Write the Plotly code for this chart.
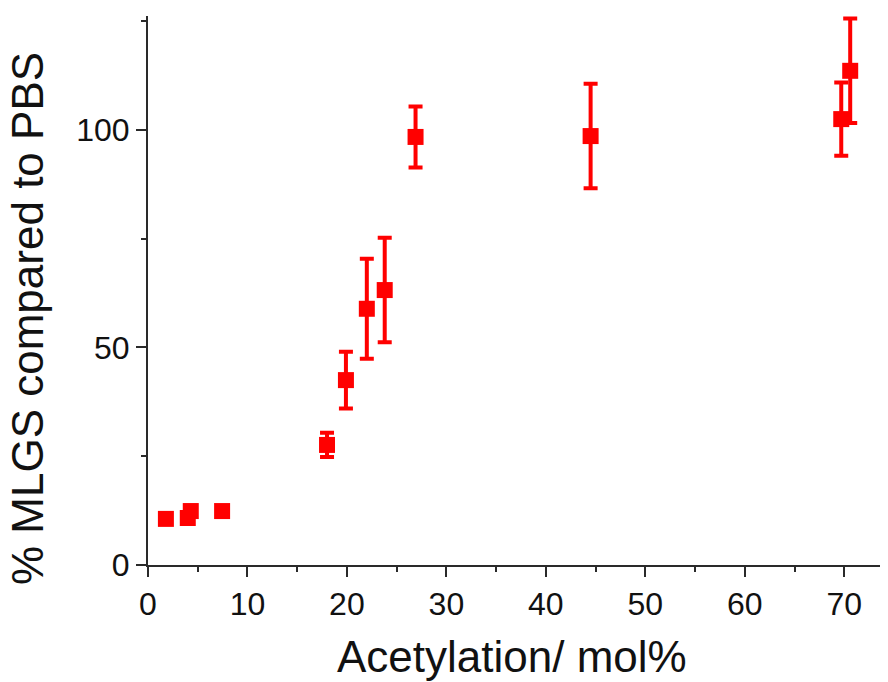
import plotly.graph_objects as go

# Acetylation (mol%) vs % MLGS compared to PBS
acetylation = [1.8, 4.0, 4.3, 7.45, 18.0, 19.9, 22.0, 23.8, 26.9, 44.5, 69.7, 70.6]
mlgs = [10.6, 10.8, 12.4, 12.4, 27.6, 42.5, 58.9, 63.2, 98.4, 98.6, 102.5, 113.6]
mlgs_err = [1.0, 1.2, 1.2, 1.0, 2.8, 6.5, 11.5, 12.0, 7.0, 12.0, 8.4, 12.0]

x_ticks = [0, 10, 20, 30, 40, 50, 60, 70]
x_minor = [5, 15, 25, 35, 45, 55, 65]
y_ticks = [0, 50, 100]
y_minor = [25, 75, 125]

FONT = "Liberation Sans, Arial, sans-serif"
INK = "#111111"
AXIS = "#2a2a2a"

fig = go.Figure()

fig.add_trace(go.Scatter(
    x=acetylation,
    y=mlgs,
    mode="markers",
    marker=dict(symbol="square", size=16, color="#ff0000"),
    error_y=dict(type="data", array=mlgs_err, visible=True,
                 color="#ff0000", thickness=4, width=7),
    showlegend=False,
))

tick_font = dict(family=FONT, size=32, color=INK)

fig.update_xaxes(
    range=[0, 74.4],
    tickmode="array", tickvals=x_ticks,
    ticks="outside", ticklen=10, tickwidth=2, tickcolor=AXIS,
    minor=dict(tickvals=x_minor, ticks="outside",
               ticklen=5, tickwidth=2, tickcolor=AXIS),
    showline=True, linecolor=AXIS, linewidth=2,
    showgrid=False, zeroline=False, automargin=False,
    tickfont=tick_font,
)

fig.update_yaxes(
    range=[0, 126.2],
    tickmode="array", tickvals=y_ticks,
    ticks="outside", ticklen=10, tickwidth=2, tickcolor=AXIS,
    minor=dict(tickvals=y_minor, ticks="outside",
               ticklen=5, tickwidth=2, tickcolor=AXIS),
    showline=True, linecolor=AXIS, linewidth=2,
    showgrid=False, zeroline=False, automargin=False,
    tickfont=tick_font,
)

# axis titles placed as annotations to match the original offsets
fig.add_annotation(
    text="Acetylation/ mol%", xref="paper", yref="paper",
    x=0.492, y=-0.118, xanchor="center", yanchor="top", showarrow=False,
    font=dict(family=FONT, size=44, color=INK),
)
fig.add_annotation(
    text="% MLGS compared to PBS", xref="paper", yref="paper",
    x=-0.127, y=0.449, xanchor="right", yanchor="middle", showarrow=False,
    textangle=-90,
    font=dict(family=FONT, size=44, color=INK),
)

# the page body adds an 8px offset, margins compensate for it
fig.update_layout(
    width=888,
    height=682,
    template="none",
    plot_bgcolor="white",
    paper_bgcolor="white",
    margin=dict(l=140, r=8, t=8, b=125),
)

fig.write_html("out.html")
